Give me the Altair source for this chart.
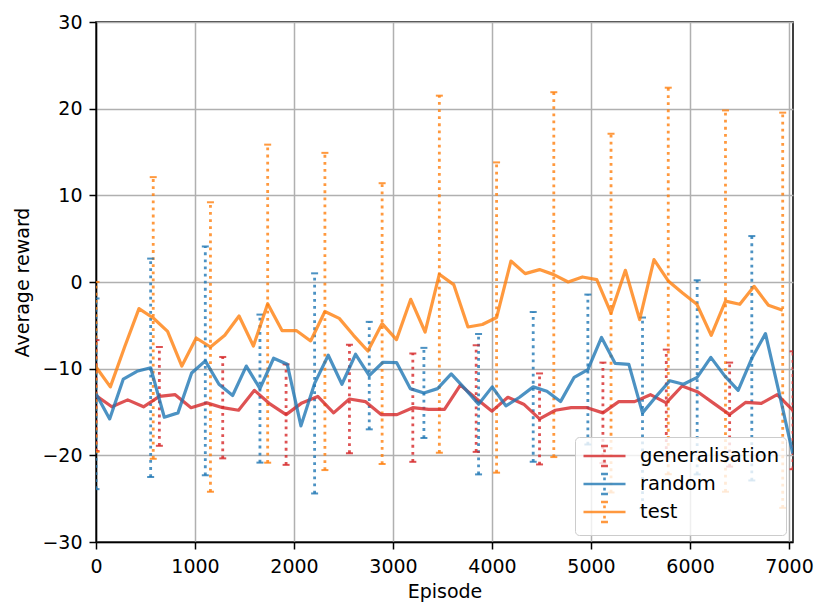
import altair as alt
import pandas as pd

# ---- data ----
series_names = ["generalisation", "random", "test"]
series_colors = ["#d62728", "#1f77b4", "#ff7f0e"]

x_ticks = [0, 1000, 2000, 3000, 4000, 5000, 6000, 7000]
y_ticks = [-30, -20, -10, 0, 10, 20, 30]

gen_episode = [0, 160, 320, 480, 640, 800, 960, 1120, 1280, 1440, 1600, 1760, 1920, 2080, 2240,
               2400, 2560, 2720, 2880, 3040, 3200, 3360, 3520, 3680, 3840, 4000, 4160, 4320, 4480,
               4640, 4800, 4960, 5120, 5280, 5440, 5600, 5760, 5920, 6080, 6240, 6400, 6560, 6720,
               6880, 7040]
gen_mean = [-13.1, -14.4, -13.6, -14.4, -13.2, -13.0, -14.5, -13.95, -14.5, -14.8,
            -12.5, -14.1, -15.3, -13.95, -13.2, -15.1, -13.5, -13.8, -15.3, -15.3,
            -14.5, -14.7, -14.7, -11.9, -13.45, -14.9, -13.3, -14.1, -15.8, -14.8,
            -14.5, -14.5, -15.1, -13.8, -13.8, -13.0, -13.95, -12.0, -12.7, -14.0,
            -15.3, -13.9, -14.0, -13.0, -14.8]
gen_std = [6.4, 5.7, 5.85, 5.8, 6.25, 6.25, 6.15, 5.25, 5.8, 6.15, 6.0, 6.8]

rand_episode = [0, 138, 276, 414, 552, 690, 828, 966, 1104, 1242, 1380, 1518, 1656, 1794, 1932,
                2070, 2208, 2346, 2484, 2622, 2760, 2898, 3036, 3174, 3312, 3450, 3588, 3726,
                3864, 4002, 4140, 4278, 4416, 4554, 4692, 4830, 4968, 5106, 5244, 5382, 5520,
                5658, 5796, 5934, 6072, 6210, 6348, 6486, 6624, 6762, 6900, 7038]
rand_mean = [-12.9, -15.8, -11.2, -10.3, -9.9, -15.6, -15.1, -10.5, -9.1, -11.8,
             -13.1, -9.7, -12.3, -8.8, -9.5, -16.6, -11.7, -8.45, -11.8, -8.34,
             -10.8, -9.26, -9.3, -12.3, -12.8, -12.3, -10.6, -12.3, -14.1, -12.1,
             -14.3, -13.3, -12.1, -12.6, -13.8, -11.0, -10.1, -6.4, -9.4, -9.5,
             -15.1, -13.2, -11.4, -11.8, -11.0, -8.7, -10.8, -12.5, -8.8, -5.95,
             -12.8, -19.8]
rand_std = [11.0, 12.6, 13.2, 8.54, 12.7, 6.2, 5.2, 8.1, 8.64, 8.65, 11.0, 11.2, 14.1]

test_episode = [0, 145, 289, 434, 578, 723, 867, 1012, 1156, 1301, 1445, 1590, 1734, 1879, 2023,
                2168, 2312, 2457, 2601, 2746, 2890, 3035, 3179, 3324, 3468, 3613, 3757, 3902,
                4046, 4191, 4335, 4480, 4624, 4769, 4913, 5058, 5202, 5347, 5491, 5636, 5780,
                5925, 6069, 6214, 6358, 6503, 6647, 6792, 6936]
test_mean = [-9.8, -12.1, -7.5, -3.07, -4.15, -5.69, -9.7, -6.46, -7.5, -6.15,
             -3.92, -7.38, -2.5, -5.6, -5.6, -6.8, -3.4, -4.2, -6.15, -7.96,
             -4.8, -6.65, -2.0, -5.77, 0.9, -0.3, -5.19, -4.9, -4.1, 2.42,
             0.97, 1.43, 0.85, 0.0, 0.58, 0.28, -3.58, 1.35, -4.34, 2.58,
             0.12, -1.27, -2.57, -6.15, -2.2, -2.57, -0.5, -2.69, -3.26]
test_std = [9.8, 16.25, 16.7, 18.35, 18.3, 16.2, 20.6, 17.9, 21.05, 20.7, 22.3, 22.0, 22.8]

ERR_EVERY = 4

# ---- tables ----
line_rows, err_rows = [], []
for name, ep, mean, std in [
    ("generalisation", gen_episode, gen_mean, gen_std),
    ("random", rand_episode, rand_mean, rand_std),
    ("test", test_episode, test_mean, test_std),
]:
    for e, m in zip(ep, mean):
        line_rows.append({"series": name, "episode": e, "reward": m})
    for e, m, s in zip(ep[::ERR_EVERY], mean[::ERR_EVERY], std):
        err_rows.append({"series": name, "episode": e, "lo": m - s, "hi": m + s})

line_df = pd.DataFrame(line_rows)
err_df = pd.DataFrame(err_rows)

FONT = "DejaVu Sans"

legend = alt.Legend(
    title=None, orient="bottom-right", offset=7, padding=7,
    fillColor="rgba(255,255,255,0.8)", strokeColor="#cccccc", cornerRadius=4,
    labelFont=FONT, labelFontSize=19.5, labelColor="black",
    symbolType="M-1,0H3M0.67,-0.95H1.33M0.67,0.95H1.33M1,-0.62V-0.36M1,0.36V0.62",
    symbolSize=441, symbolStrokeWidth=2.6, labelOffset=34, rowPadding=-4,
)
color = alt.Color("series:N", scale=alt.Scale(domain=series_names, range=series_colors),
                  legend=legend)

common_axis = dict(labelFont=FONT, labelFontSize=19, labelColor="black",
                   tickColor="black", tickWidth=1.5, tickSize=7,
                   domainColor="black", domainWidth=1.5,
                   gridColor="#b0b0b0", gridWidth=1.5,
                   labelFlush=False, labelOverlap=False,
                   titleFont=FONT, titleFontSize=19, titleFontWeight="normal",
                   titleColor="black", format="d")

x = alt.X("episode:Q", title="Episode",
          scale=alt.Scale(domain=[0, 7040], nice=False, zero=False),
          axis=alt.Axis(values=x_ticks, labelPadding=8, titlePadding=6, **common_axis))
yscale = alt.Scale(domain=[-30, 30], nice=False, zero=False)
yaxis = alt.Axis(values=y_ticks, labelPadding=7, titlePadding=9, **common_axis)

rules = alt.Chart(err_df).mark_rule(clip=True, strokeCap="butt").encode(
    x=x,
    y=alt.Y("lo:Q", scale=yscale, axis=yaxis, title="Average reward"),
    y2="hi:Q",
    color=color,
    strokeDash=alt.value([2.8, 4.3]),
    strokeWidth=alt.value(2.8),
    opacity=alt.value(0.8),
)
caps_lo = alt.Chart(err_df).mark_tick(orient="horizontal", thickness=2, clip=True).encode(
    x=x, y=alt.Y("lo:Q", scale=yscale), color=color,
    size=alt.value(7), opacity=alt.value(0.8))
caps_hi = alt.Chart(err_df).mark_tick(orient="horizontal", thickness=2, clip=True).encode(
    x=x, y=alt.Y("hi:Q", scale=yscale), color=color,
    size=alt.value(7), opacity=alt.value(0.8))
lines = alt.Chart(line_df).mark_line(clip=True, strokeJoin="round").encode(
    x=x, y=alt.Y("reward:Q", scale=yscale), color=color,
    strokeWidth=alt.value(3.2), opacity=alt.value(0.8))

chart = alt.layer(rules, caps_lo, caps_hi, lines).properties(
    width=697, height=520,
    autosize=alt.AutoSizeParams(type="none"),
    padding={"left": 88, "top": 14, "right": 25, "bottom": 62},
    background="white",
).configure_view(stroke="black", strokeWidth=1.5)

chart.save("out.html", embed_options={"renderer": "svg", "actions": False})
